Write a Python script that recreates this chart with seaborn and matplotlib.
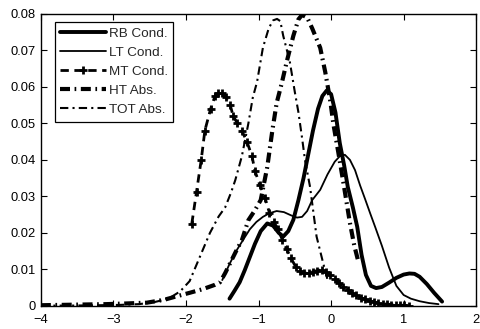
import matplotlib
matplotlib.use('Agg')
import matplotlib.pyplot as plt
import seaborn as sns
import pandas as pd

# values
rb_x = [-1.40, -1.33, -1.26, -1.19, -1.12, -1.05, -0.97, -0.88, -0.80, -0.72,
        -0.66, -0.59, -0.52, -0.45, -0.38, -0.32, -0.25, -0.18, -0.12, -0.06,
        0.00, 0.06, 0.12, 0.18, 0.23, 0.30, 0.36, 0.42, 0.48, 0.55,
        0.62, 0.70, 0.80, 0.90, 1.00, 1.08, 1.15, 1.22, 1.32, 1.42, 1.53]
rb_y = [0.0020, 0.0042, 0.0065, 0.0098, 0.0134, 0.0170, 0.0205, 0.0226, 0.0220, 0.0200,
        0.0190, 0.0205, 0.0236, 0.0290, 0.0350, 0.0410, 0.0480, 0.0540, 0.0575, 0.0590,
        0.0580, 0.0530, 0.0446, 0.0385, 0.0326, 0.0270, 0.0217, 0.0140, 0.0085, 0.0055,
        0.0049, 0.0052, 0.0064, 0.0077, 0.0086, 0.0089, 0.0088, 0.0080, 0.0060, 0.0036, 0.0012]

lt_x = [-1.50, -1.40, -1.30, -1.20, -1.12, -1.03, -0.94, -0.85, -0.75, -0.65,
        -0.55, -0.47, -0.40, -0.33, -0.26, -0.15, -0.05, 0.05, 0.12, 0.19,
        0.26, 0.33, 0.40, 0.47, 0.54, 0.61, 0.70, 0.80, 0.90, 1.00,
        1.10, 1.22, 1.35, 1.48]
lt_y = [0.0071, 0.0115, 0.0153, 0.0185, 0.0210, 0.0230, 0.0244, 0.0254, 0.0260, 0.0257,
        0.0248, 0.0242, 0.0244, 0.0260, 0.0290, 0.0318, 0.0360, 0.0395, 0.0410, 0.0414,
        0.0400, 0.0372, 0.0330, 0.0292, 0.0253, 0.0215, 0.0165, 0.0105, 0.0055, 0.0030,
        0.0020, 0.0013, 0.0008, 0.0005]

mt_x = [-1.92, -1.855, -1.79, -1.74, -1.66, -1.60, -1.56, -1.50, -1.45, -1.39,
        -1.35, -1.29, -1.23, -1.16, -1.09, -1.05, -0.98, -0.91, -0.85, -0.79,
        -0.73, -0.67, -0.61, -0.55, -0.49, -0.43, -0.37, -0.31, -0.25, -0.19,
        -0.13, -0.07, -0.01, 0.05, 0.11, 0.17, 0.23, 0.29, 0.35, 0.41,
        0.47, 0.53, 0.59, 0.65, 0.71, 0.77, 0.83, 0.89, 0.95, 1.01, 1.07]
mt_y = [0.0225, 0.0312, 0.0400, 0.0480, 0.0540, 0.0575, 0.0584, 0.0582, 0.0572, 0.0550,
        0.0520, 0.0500, 0.0480, 0.0450, 0.0410, 0.0370, 0.0330, 0.0296, 0.0255, 0.0230,
        0.0210, 0.0180, 0.0155, 0.0130, 0.0108, 0.0095, 0.0090, 0.0091, 0.0094, 0.0097,
        0.0099, 0.0094, 0.0085, 0.0074, 0.0063, 0.0053, 0.0044, 0.0036, 0.0029, 0.0023,
        0.0018, 0.0014, 0.0011, 0.0008, 0.0006, 0.0005, 0.0004, 0.0003, 0.0002, 0.0002, 0.0001]

ht_x = [-4.00, -3.70, -3.40, -3.10, -2.80, -2.54, -2.30, -2.10, -1.95, -1.77,
        -1.60, -1.53, -1.46, -1.39, -1.31, -1.23, -1.14, -1.05, -0.97, -0.88,
        -0.81, -0.75, -0.68, -0.61, -0.52, -0.45, -0.40, -0.33, -0.26, -0.15,
        -0.08, -0.01, 0.03, 0.10, 0.17, 0.26, 0.32, 0.37]
ht_y = [0.0002, 0.0003, 0.0004, 0.0005, 0.0007, 0.0009, 0.0017, 0.0028, 0.0036, 0.0046,
        0.0058, 0.0065, 0.0090, 0.0118, 0.0150, 0.0180, 0.0235, 0.0262, 0.0290, 0.0380,
        0.0480, 0.0556, 0.0610, 0.0670, 0.0740, 0.0785, 0.0797, 0.0790, 0.0760, 0.0707,
        0.0640, 0.0560, 0.0500, 0.0420, 0.0337, 0.0227, 0.0165, 0.0126]

tot_x = [-4.00, -3.60, -3.20, -2.90, -2.65, -2.45, -2.32, -2.20, -2.08, -1.95,
         -1.81, -1.67, -1.55, -1.46, -1.38, -1.32, -1.23, -1.14, -1.08, -1.02,
         -0.94, -0.86, -0.80, -0.745, -0.70, -0.66, -0.57, -0.50, -0.45, -0.40,
         -0.36, -0.29, -0.20, -0.11, -0.04]
tot_y = [0.0001, 0.0001, 0.0002, 0.0003, 0.0005, 0.0010, 0.0016, 0.0025, 0.0040, 0.0068,
         0.0134, 0.0200, 0.0245, 0.0270, 0.0310, 0.0345, 0.0410, 0.0500, 0.0570, 0.0614,
         0.0707, 0.0760, 0.0782, 0.0786, 0.0780, 0.0740, 0.0670, 0.0586, 0.0530, 0.0460,
         0.0400, 0.0326, 0.0190, 0.0118, 0.0065]

sns.set_style('ticks')
plt.rcParams['font.family'] = ['Liberation Sans', 'DejaVu Sans']
plt.rcParams['axes.unicode_minus'] = True

fig = plt.figure(figsize=(4.81, 3.29), dpi=100)
ax = fig.add_axes([0.085, 0.07, 0.905, 0.888])

series = [
    ('RB Cond.', rb_x, rb_y, dict(linewidth=2.8), None),
    ('LT Cond.', lt_x, lt_y, dict(linewidth=1.3), None),
    ('MT Cond.', mt_x, mt_y, dict(linewidth=2.0, marker='+', markersize=5.5,
                                  markeredgewidth=2.0, markeredgecolor='black'), (3, 2)),
    ('HT Abs.', ht_x, ht_y, dict(linewidth=3.0), (2.4, 1.1, 0.4, 1.1)),
    ('TOT Abs.', tot_x, tot_y, dict(linewidth=1.5), (4, 2, 1, 2)),
]

for label, xs, ys, kws, dash in series:
    df = pd.DataFrame({'x': xs, 'y': ys})
    sns.lineplot(data=df, x='x', y='y', ax=ax, color='black', label=label,
                 estimator=None, sort=False, **kws)
    if dash is not None:
        ax.lines[-1].set_dashes(dash)

ax.set_xlim(-4, 2)
ax.set_ylim(0, 0.08)
ax.set_xticks([-4, -3, -2, -1, 0, 1, 2])
ax.set_yticks([0, 0.01, 0.02, 0.03, 0.04, 0.05, 0.06, 0.07, 0.08])
ax.set_yticklabels(['0', '0.01', '0.02', '0.03', '0.04', '0.05', '0.06', '0.07', '0.08'])
ax.set_xlabel('')
ax.set_ylabel('')
ax.tick_params(direction='in', top=True, right=True, length=4, width=0.8,
               labelsize=9.3, colors='black')
ax.tick_params(axis='x', pad=6)
ax.tick_params(axis='y', pad=4)
for sp in ax.spines.values():
    sp.set_visible(True)
    sp.set_color('black')
    sp.set_linewidth(1.0)

leg = ax.legend(loc='upper left', bbox_to_anchor=(0.032, 0.973), borderaxespad=0,
                fontsize=9.7, handlelength=3.4, handletextpad=0.2, labelspacing=0.5,
                borderpad=0.4, fancybox=False, frameon=True, numpoints=1)
leg.get_frame().set_edgecolor('black')
leg.get_frame().set_linewidth(0.9)
leg.get_frame().set_alpha(1)

fig.savefig('out.png', dpi=100)
plt.close(fig)
